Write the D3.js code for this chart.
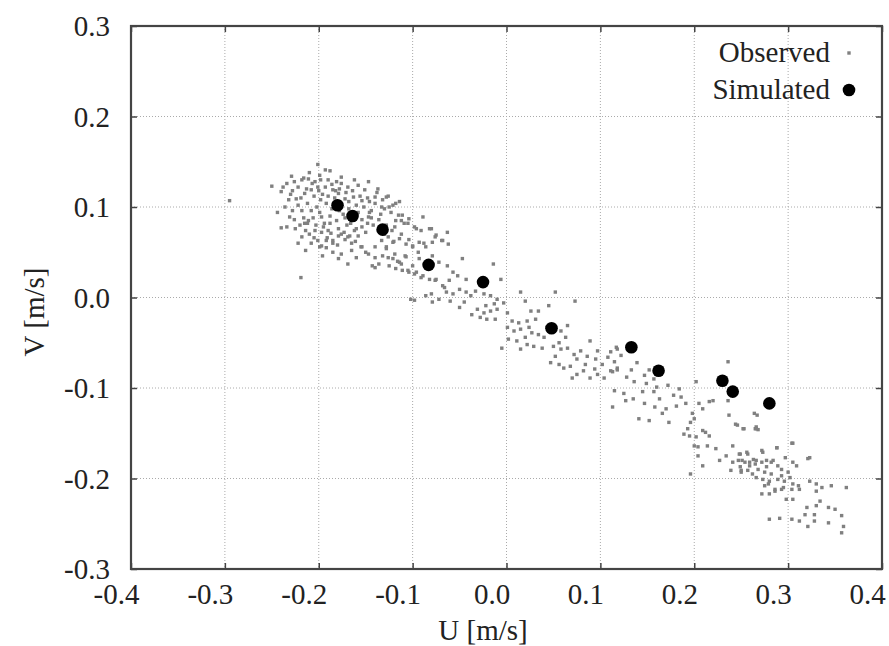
<!DOCTYPE html>
<html>
<head>
<meta charset="utf-8">
<script src="https://cdn.jsdelivr.net/npm/d3@7"></script>
<style>
  body { margin: 0; background: #fff; }
  svg { display: block; font-family: "Liberation Serif", "DejaVu Serif", serif; }
</style>
</head>
<body>
<svg id="chart" width="889" height="646"></svg>
<script>
// axis ticks
const uTicks = [-0.4, -0.3, -0.2, -0.1, 0.0, 0.1, 0.2, 0.3, 0.4];
const vTicks = [-0.3, -0.2, -0.1, 0.0, 0.1, 0.2, 0.3];

// simulated velocity points [U, V]
const simulated = [
  [-0.180, 0.102], [-0.164, 0.090], [-0.132, 0.075], [-0.083, 0.036],
  [-0.025, 0.017], [0.048, -0.034], [0.133, -0.055], [0.162, -0.081],
  [0.230, -0.092], [0.241, -0.104], [0.280, -0.117]
];

// observed velocity points [U, V]
const observed = [
  [-0.201,0.147],[-0.193,0.141],[-0.229,0.134],[-0.250,0.123],[-0.240,0.117],[-0.234,0.126],
  [-0.218,0.130],[-0.211,0.131],[-0.204,0.128],[-0.199,0.135],[-0.190,0.130],[-0.181,0.128],
  [-0.176,0.126],[-0.185,0.119],[-0.179,0.115],[-0.169,0.122],[-0.158,0.124],[-0.151,0.119],
  [-0.137,0.120],[-0.126,0.112],[-0.140,0.111],[-0.146,0.106],[-0.154,0.107],[-0.163,0.111],
  [-0.172,0.109],[-0.208,0.119],[-0.215,0.115],[-0.222,0.122],[-0.224,0.109],[-0.236,0.100],
  [-0.231,0.089],[-0.234,0.078],[-0.240,0.077],[-0.225,0.076],[-0.218,0.067],[-0.215,0.082],
  [-0.211,0.085],[-0.208,0.096],[-0.202,0.100],[-0.197,0.089],[-0.194,0.082],[-0.190,0.074],
  [-0.204,0.074],[-0.201,0.063],[-0.197,0.057],[-0.192,0.063],[-0.185,0.063],[-0.176,0.070],
  [-0.169,0.067],[-0.162,0.074],[-0.154,0.078],[-0.147,0.089],[-0.144,0.096],[-0.133,0.100],
  [-0.123,0.094],[-0.115,0.091],[-0.112,0.085],[-0.105,0.082],[-0.098,0.078],[-0.091,0.074],
  [-0.080,0.076],[-0.076,0.067],[-0.069,0.063],[-0.062,0.059],[-0.119,0.078],[-0.126,0.067],
  [-0.133,0.063],[-0.140,0.056],[-0.147,0.048],[-0.154,0.056],[-0.165,0.052],[-0.176,0.048],
  [-0.179,0.043],[-0.169,0.037],[-0.140,0.033],[-0.126,0.044],[-0.119,0.048],[-0.112,0.037],
  [-0.105,0.030],[-0.098,0.026],[-0.091,0.022],[-0.076,0.019],[-0.066,0.011],[-0.080,0.004],
  [-0.098,-0.003],[-0.060,-0.004],[-0.219,0.022],[-0.295,0.107],
  [-0.205,0.112],[-0.198,0.108],[-0.192,0.104],[-0.186,0.098],[-0.212,0.104],[-0.218,0.096],
  [-0.206,0.088],[-0.199,0.094],[-0.188,0.090],[-0.181,0.085],[-0.174,0.092],[-0.168,0.098],
  [-0.176,0.102],[-0.183,0.110],[-0.170,0.080],[-0.162,0.086],[-0.158,0.094],[-0.152,0.100],
  [-0.146,0.094],[-0.160,0.102],[-0.195,0.078],[-0.187,0.071],[-0.179,0.076],[-0.172,0.064],
  [-0.165,0.060],[-0.158,0.068],[-0.150,0.072],[-0.142,0.080],[-0.136,0.086],[-0.130,0.070],
  [-0.210,0.070],[-0.226,0.086],[-0.220,0.080],[-0.214,0.074],[-0.208,0.060],[-0.192,0.055],
  [-0.185,0.050],[-0.200,0.118],[-0.193,0.122],[-0.186,0.125],[-0.178,0.120],[-0.171,0.116],
  [-0.164,0.118],[-0.156,0.112],[-0.148,0.110],[-0.140,0.104],[-0.132,0.108],[-0.125,0.100],
  [-0.118,0.104],[-0.210,0.138],[-0.188,0.140],[-0.176,0.133],[-0.162,0.130],[-0.147,0.128],
  [-0.138,0.116],[-0.228,0.118],[-0.232,0.108],[-0.244,0.094],[-0.228,0.096],[-0.222,0.060],
  [-0.214,0.052],[-0.196,0.046],[-0.180,0.058],[-0.160,0.044],[-0.150,0.050],[-0.140,0.044],
  [-0.128,0.056],[-0.120,0.062],[-0.112,0.070],[-0.104,0.064],[-0.100,0.056],[-0.094,0.050],
  [-0.088,0.060],[-0.108,0.046],[-0.116,0.040],
  [-0.219,0.110],[-0.213,0.120],[-0.207,0.126],[-0.201,0.122],[-0.196,0.114],[-0.190,0.112],
  [-0.184,0.104],[-0.178,0.096],[-0.172,0.088],[-0.166,0.082],[-0.160,0.076],[-0.154,0.086],
  [-0.148,0.082],[-0.203,0.080],[-0.197,0.072],[-0.191,0.066],[-0.185,0.060],[-0.179,0.068],
  [-0.173,0.072],[-0.167,0.068],[-0.161,0.062],[-0.155,0.056],[-0.216,0.088],[-0.222,0.102],
  [-0.230,0.114],[-0.238,0.122],[-0.226,0.128],[-0.216,0.132],[-0.198,0.130],[-0.182,0.118],
  [-0.168,0.106],[-0.163,0.094],[-0.144,0.088],[-0.134,0.092],[-0.128,0.080],[-0.122,0.074],
  [-0.212,0.082],[-0.205,0.066],[-0.199,0.056],[-0.188,0.082],
  [-0.128,0.111],[-0.130,0.098],[-0.121,0.102],[-0.114,0.106],[-0.111,0.091],[-0.118,0.085],
  [-0.109,0.082],[-0.104,0.087],[-0.096,0.076],[-0.089,0.089],[-0.082,0.076],[-0.075,0.069],
  [-0.068,0.063],[-0.063,0.072],[-0.079,0.061],[-0.086,0.056],[-0.093,0.061],[-0.100,0.057],
  [-0.107,0.059],[-0.114,0.065],[-0.121,0.061],[-0.128,0.054],[-0.132,0.046],[-0.121,0.043],
  [-0.114,0.039],[-0.107,0.045],[-0.100,0.035],[-0.093,0.043],[-0.079,0.046],[-0.072,0.039],
  [-0.063,0.035],[-0.057,0.028],[-0.052,0.024],[-0.061,0.019],[-0.068,0.013],[-0.075,0.020],
  [-0.082,0.020],[-0.089,0.024],[-0.096,0.028],[-0.104,0.028],[-0.111,0.030],[-0.118,0.032],
  [-0.125,0.035],[-0.136,0.037],[-0.143,0.035],[-0.047,0.043],[-0.043,0.020],[-0.050,0.009],
  [-0.057,0.004],[-0.064,0.006],[-0.072,-0.002],[-0.079,-0.005],[-0.086,0.002],[-0.043,0.006],
  [-0.038,0.002],[-0.045,-0.005],[-0.050,-0.011],[-0.102,-0.002],
  [-0.014,0.037],[-0.006,0.020],[-0.033,0.007],[-0.024,0.004],[-0.017,0.002],[-0.010,-0.002],
  [-0.003,-0.006],[-0.013,-0.007],[-0.022,-0.009],[-0.031,-0.013],[-0.037,-0.019],[-0.024,-0.017],
  [-0.017,-0.015],[-0.010,-0.013],[-0.028,-0.022],[-0.021,-0.024],[-0.012,-0.024],[0.001,-0.017],
  [0.015,0.006],[0.020,-0.004],[0.026,-0.015],[0.034,-0.015],[0.031,-0.024],[0.022,-0.026],
  [0.013,-0.028],[0.006,-0.026],[0.001,-0.033],[0.008,-0.037],[0.015,-0.035],[0.024,-0.033],
  [0.027,-0.039],[0.020,-0.044],[0.011,-0.048],[0.002,-0.046],[-0.005,-0.056],[0.015,-0.057],
  [0.022,-0.052],[0.029,-0.054],[0.038,-0.056],[0.040,-0.044],[0.034,-0.041],[0.043,-0.033],
  [0.052,0.006],[0.045,-0.009],[0.065,-0.031],[0.058,-0.037],[0.063,-0.044],[0.056,-0.050],
  [0.050,-0.054],[0.058,-0.057],[0.065,-0.056],[0.052,-0.065],[0.047,-0.072],[0.056,-0.074],
  [0.061,-0.078],[0.068,-0.076],[0.075,-0.068],[0.072,-0.063],[0.079,-0.059],[0.086,-0.065],
  [0.089,-0.048],[0.097,-0.059],[0.095,-0.068],[0.084,-0.074],[0.082,-0.081],[0.075,-0.085],
  [0.070,-0.089],[0.089,-0.089],[0.097,-0.085],[0.104,-0.089],[0.111,-0.081],[0.118,-0.078],
  [0.118,-0.057],[0.073,-0.004],
  [0.117,-0.055],[0.111,-0.060],[0.115,-0.071],[0.118,-0.080],[0.113,-0.082],[0.133,-0.080],
  [0.136,-0.093],[0.147,-0.086],[0.157,-0.090],[0.149,-0.095],[0.115,-0.103],[0.125,-0.106],
  [0.127,-0.114],[0.113,-0.121],[0.145,-0.104],[0.157,-0.104],[0.147,-0.117],[0.163,-0.112],
  [0.172,-0.097],[0.184,-0.101],[0.186,-0.110],[0.170,-0.123],[0.166,-0.128],[0.173,-0.138],
  [0.152,-0.136],[0.141,-0.134],[0.191,-0.117],[0.205,-0.117],[0.209,-0.123],[0.216,-0.115],
  [0.220,-0.114],[0.202,-0.093],[0.198,-0.128],[0.200,-0.134],[0.196,-0.138],[0.193,-0.145],
  [0.189,-0.151],[0.195,-0.153],[0.202,-0.154],[0.209,-0.147],[0.212,-0.149],[0.216,-0.153],
  [0.200,-0.164],[0.204,-0.165],[0.214,-0.164],[0.204,-0.175],[0.209,-0.186],[0.196,-0.195],
  [0.236,-0.071],[0.236,-0.114],[0.237,-0.130],[0.244,-0.140],[0.253,-0.145],[0.264,-0.128],
  [0.266,-0.145],[0.223,-0.167],[0.234,-0.175],[0.227,-0.180],[0.241,-0.164],[0.241,-0.182],
  [0.248,-0.173],[0.251,-0.180],[0.259,-0.186],[0.266,-0.180],[0.250,-0.191],[0.239,-0.191],
  [0.262,-0.195],[0.257,-0.173],
  [0.246,-0.141],[0.267,-0.130],[0.268,-0.146],[0.288,-0.166],[0.305,-0.161],[0.273,-0.171],
  [0.323,-0.177],[0.297,-0.177],[0.284,-0.180],[0.277,-0.187],[0.259,-0.182],[0.249,-0.187],
  [0.252,-0.145],[0.265,-0.145],[0.266,-0.143],[0.288,-0.166],[0.304,-0.161],[0.272,-0.169],
  [0.249,-0.173],[0.256,-0.171],[0.247,-0.180],[0.254,-0.182],[0.263,-0.179],[0.265,-0.184],
  [0.272,-0.182],[0.277,-0.180],[0.282,-0.182],[0.289,-0.186],[0.293,-0.190],[0.300,-0.193],
  [0.305,-0.182],[0.309,-0.186],[0.321,-0.178],[0.250,-0.193],[0.257,-0.191],[0.268,-0.190],
  [0.275,-0.193],[0.282,-0.195],[0.293,-0.197],[0.266,-0.199],[0.273,-0.201],[0.280,-0.203],
  [0.289,-0.201],[0.296,-0.203],[0.302,-0.199],[0.305,-0.206],[0.311,-0.208],[0.312,-0.212],
  [0.304,-0.212],[0.295,-0.210],[0.286,-0.212],[0.279,-0.206],[0.275,-0.208],[0.272,-0.217],
  [0.280,-0.217],[0.286,-0.214],[0.293,-0.212],[0.323,-0.203],[0.330,-0.206],[0.330,-0.214],
  [0.336,-0.210],[0.346,-0.208],[0.362,-0.210],[0.298,-0.223],[0.305,-0.223],[0.320,-0.232],
  [0.330,-0.230],[0.334,-0.225],[0.343,-0.232],[0.350,-0.234],[0.318,-0.240],[0.328,-0.240],
  [0.280,-0.245],[0.291,-0.244],[0.304,-0.245],[0.312,-0.247],[0.321,-0.253],[0.328,-0.247],
  [0.343,-0.249],[0.357,-0.241],[0.359,-0.253],[0.357,-0.260],
  [0.108,-0.066],[0.122,-0.064],[0.128,-0.088],[0.139,-0.072],[0.152,-0.080],[0.160,-0.099],
  [0.178,-0.108],[0.181,-0.120],[0.158,-0.121],[0.135,-0.112],[0.102,-0.074],[0.094,-0.079]
];

const W = 889, H = 646;
const plot = { left: 131, top: 26, right: 882, bottom: 569 };

const svg = d3.select("#chart");

const x = d3.scaleLinear().domain([-0.4, 0.4]).range([plot.left, plot.right]);
const y = d3.scaleLinear().domain([-0.3, 0.3]).range([plot.bottom, plot.top]);
const fmt = d => d.toFixed(1);

// grid
const grid = svg.append("g").attr("class", "grid");
grid.selectAll("line.gx").data(uTicks.slice(1, -1)).join("line")
  .attr("x1", d => x(d)).attr("x2", d => x(d))
  .attr("y1", plot.top).attr("y2", plot.bottom);
grid.selectAll("line.gy").data(vTicks.slice(1, -1)).join("line")
  .attr("x1", plot.left).attr("x2", plot.right)
  .attr("y1", d => y(d)).attr("y2", d => y(d));
grid.selectAll("line")
  .attr("stroke", "#aaa").attr("stroke-width", 1).attr("stroke-dasharray", "1,2");

// observed
const ds = 3.4;
svg.append("g").selectAll("rect").data(observed).join("rect")
  .attr("x", d => x(d[0]) - ds / 2).attr("y", d => y(d[1]) - ds / 2)
  .attr("width", ds).attr("height", ds)
  .attr("fill", "#808080");

// simulated
svg.append("g").selectAll("circle").data(simulated).join("circle")
  .attr("cx", d => x(d[0])).attr("cy", d => y(d[1])).attr("r", 6.3)
  .attr("fill", "#000");

// axes with inward ticks on all four sides
const tickLen = 6;
const axBottom = svg.append("g").attr("transform", `translate(0,${plot.bottom})`)
  .call(d3.axisBottom(x).tickValues(uTicks).tickSize(-tickLen).tickFormat(fmt));
const axTop = svg.append("g").attr("transform", `translate(0,${plot.top})`)
  .call(d3.axisTop(x).tickValues(uTicks).tickSize(-tickLen).tickFormat(""));
const axLeft = svg.append("g").attr("transform", `translate(${plot.left},0)`)
  .call(d3.axisLeft(y).tickValues(vTicks).tickSize(-tickLen).tickFormat(fmt));
const axRight = svg.append("g").attr("transform", `translate(${plot.right},0)`)
  .call(d3.axisRight(y).tickValues(vTicks).tickSize(-tickLen).tickFormat(""));

[axBottom, axTop, axLeft, axRight].forEach(g => {
  g.select(".domain").remove();
  g.selectAll(".tick line").attr("stroke", "#444").attr("stroke-width", 1.5);
});

axBottom.selectAll(".tick text")
  .attr("y", 14).attr("dx", -15).attr("dy", "0.71em")
  .attr("font-size", 29).attr("fill", "#222")
  .attr("font-family", "Liberation Serif, serif");
axLeft.selectAll(".tick text")
  .attr("x", -21).attr("dy", "0.34em")
  .attr("font-size", 29).attr("fill", "#222")
  .attr("font-family", "Liberation Serif, serif");

// frame
svg.append("rect")
  .attr("x", plot.left).attr("y", plot.top)
  .attr("width", plot.right - plot.left).attr("height", plot.bottom - plot.top)
  .attr("fill", "none").attr("stroke", "#444").attr("stroke-width", 2.2);

// axis titles
svg.append("text")
  .attr("x", 483).attr("y", 640)
  .attr("text-anchor", "middle").attr("font-size", 29).attr("fill", "#222")
  .text("U [m/s]");
svg.append("text")
  .attr("transform", "translate(44,312) rotate(-90)")
  .attr("text-anchor", "middle").attr("font-size", 29).attr("fill", "#222")
  .text("V [m/s]");

// legend
const legend = svg.append("g");
legend.append("text").attr("x", 830).attr("y", 62)
  .attr("text-anchor", "end").attr("font-size", 29).attr("fill", "#222").text("Observed");
legend.append("rect").attr("x", 849 - ds / 2).attr("y", 53 - ds / 2).attr("width", ds).attr("height", ds)
  .attr("fill", "#808080");
legend.append("text").attr("x", 830).attr("y", 99)
  .attr("text-anchor", "end").attr("font-size", 29).attr("fill", "#222").text("Simulated");
legend.append("circle").attr("cx", 849).attr("cy", 90).attr("r", 6.3).attr("fill", "#000");
</script>
</body>
</html>
